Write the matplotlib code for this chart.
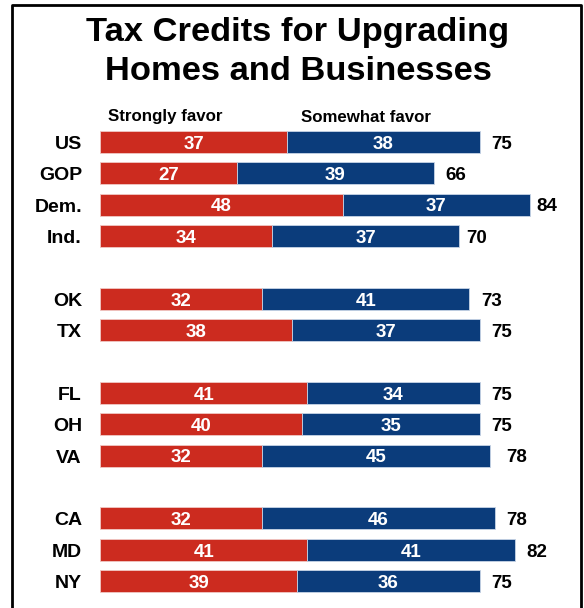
import matplotlib
matplotlib.use("Agg")
import matplotlib.pyplot as plt
from matplotlib.lines import Line2D

plt.rcParams['font.family'] = ['Liberation Sans', 'DejaVu Sans']

categories = ["US", "GOP", "Dem.", "Ind.", "OK", "TX", "FL", "OH", "VA", "CA", "MD", "NY"]
positions = [0, 1, 2, 3, 5, 6, 8, 9, 10, 12, 13, 14]
strongly = [37, 27, 48, 34, 32, 38, 41, 40, 32, 32, 41, 39]
somewhat = [38, 39, 37, 37, 41, 37, 34, 35, 45, 46, 41, 36]
totals = [75, 66, 84, 70, 73, 75, 75, 75, 78, 78, 82, 75]
series_names = ["Strongly favor", "Somewhat favor"]
title = "Tax Credits for Upgrading\nHomes and Businesses"

RED = "#CC2B1F"
BLUE = "#0B3C7B"

W, H = 584, 608
fig = plt.figure(figsize=(W / 100, H / 100), dpi=100)

px_per_unit = 5.06
left_px = 100
xmax = 95
slot = 31.37
top_center = 142
ax_top = top_center - slot / 2
ax_h = 15 * slot
ax = fig.add_axes([left_px / W, 1 - (ax_top + ax_h) / H, xmax * px_per_unit / W, ax_h / H])
ax.set_xlim(0, xmax)
ax.set_ylim(14.5, -0.5)
ax.axis("off")

bh = 0.70
ax.barh(positions, strongly, height=bh, color=RED, edgecolor="#f0c8c4", linewidth=0.6)
ax.barh(positions, somewhat, left=strongly, height=bh, color=BLUE, edgecolor="#c8d4e6", linewidth=0.6)


def label(x, y, s, fs, color, ha, dx=0):
    ax.annotate(s, (x, y), xytext=(dx, -fs * 0.716 / 2), textcoords="offset points",
                ha=ha, va="baseline", fontsize=fs, fontweight="bold", color=color,
                annotation_clip=False)


fs = 13.5
for p, c, s, m, t in zip(positions, categories, strongly, somewhat, totals):
    label(0, p, c, 14, "black", "right", dx=-13)
    label(s / 2, p, str(s), fs, "white", "center")
    label(s + m / 2, p, str(m), fs, "white", "center")
    label(t, p, str(t), fs, "black", "left", dx=8.5)

fig.text(108 / W, 1 - 117 / H, series_names[0], ha="left", va="center", fontsize=12.2, fontweight="bold")
fig.text(301 / W, 1 - 117 / H, series_names[1], ha="left", va="center", fontsize=12.2, fontweight="bold")

lines = title.split("\n")
fig.text(298 / W, 1 - 33 / H, lines[0], ha="center", va="center", fontsize=24.8, fontweight="bold")
fig.text(298 / W, 1 - 72 / H, lines[1], ha="center", va="center", fontsize=24.8, fontweight="bold")

bx0, bx1, by = 12 / W, 581 / W, 1 - 4.5 / H
fig.add_artist(Line2D([bx0, bx0, bx1, bx1], [-0.05, by, by, -0.05],
                      transform=fig.transFigure, color="black", linewidth=2.0))

fig.savefig("out.png", dpi=100)
